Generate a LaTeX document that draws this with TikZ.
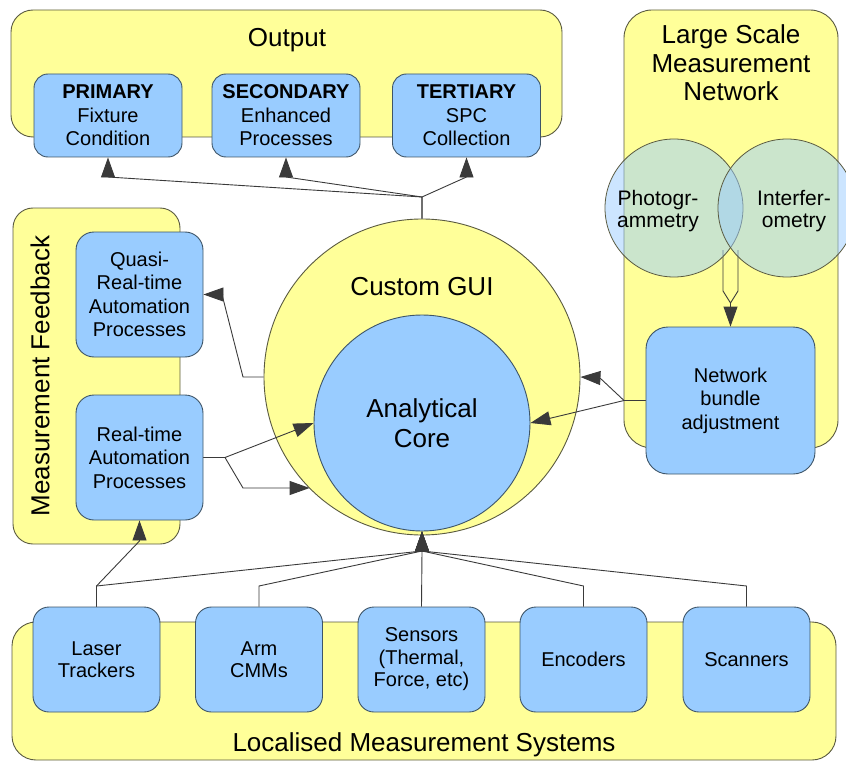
\documentclass[tikz,border=0pt]{standalone}
\usepackage{fontspec}
\setmainfont{Liberation Sans}
\usetikzlibrary{arrows.meta,calc}
\definecolor{ylw}{HTML}{FFFF99}
\definecolor{blu}{HTML}{99CCFF}
\definecolor{cedge}{HTML}{5A5A40}
\definecolor{bedge}{HTML}{3E5568}
\definecolor{lin}{HTML}{3A3A3A}
\begin{document}
\begin{tikzpicture}[x=1pt,y=-1pt,
 container/.style={draw=cedge, fill=ylw, line width=0.9pt, rounded corners=22pt, rectangle, inner sep=0pt},
 bluebox/.style={draw=bedge, fill=blu, line width=0.9pt, rounded corners=14pt, rectangle, inner sep=0pt, align=center, font=\fontsize{20}{23.5}\selectfont},
 titletext/.style={font=\fontsize{26}{29}\selectfont, align=center, inner sep=0pt},
 venn/.style={circle, draw=cedge, line width=0.8pt, fill=blu, fill opacity=0.5, inner sep=0pt, minimum size=138pt},
 conn/.style={draw=lin, line width=0.9pt},
 arr/.style={conn, -{Triangle[length=20pt,width=14pt]}},
]
\useasboundingbox (0,0) rectangle (846,765);

% ---------- containers ----------
\node[container, minimum width=551pt, minimum height=127pt] (outC) at (286.5,73.5) {};
\node[titletext, anchor=base] (outT) at (287,47) {Output};

\node[container, rounded corners=20pt, minimum width=167pt, minimum height=336pt] (mfC) at (96.5,376) {};
\node[titletext, rotate=90] (mfT) at (40,376) {Measurement Feedback};

\node[container, rounded corners=28pt, minimum width=214pt, minimum height=438pt] (lsC) at (731,229) {};
\node[titletext, font=\fontsize{26}{28.5}\selectfont] (lsT) at (731,63) {Large Scale\\Measurement\\Network};

\node[container, rounded corners=24pt, minimum width=824pt, minimum height=138pt] (lmC) at (424,691) {};
\node[titletext, anchor=base] (lmT) at (424,751) {Localised Measurement Systems};

% ---------- hollow arrow between venn and network box ----------
\coordinate (hTip) at (730.5,303);
\draw[conn, fill=ylw] (723,250) -- (723,291) -- (hTip) -- (738,291) -- (738,250);

% ---------- venn circles ----------
\node[venn] (photo) at (674,208) {};
\node[venn] (inter) at (787,208) {};
\node[font=\fontsize{21}{22}\selectfont, align=center, inner sep=0pt] (photoT) at (658,211) {Photogr-\\ammetry};
\node[font=\fontsize{21}{22}\selectfont, align=center, inner sep=0pt] (interT) at (794,211) {Interfer-\\ometry};

% ---------- GUI and core ----------
\node[circle, draw=cedge, fill=ylw, line width=0.9pt, minimum size=316pt, inner sep=0pt] (gui) at (422,377) {};
\node[titletext, anchor=base] (guiT) at (422,295) {Custom GUI};
\node[circle, draw=bedge, fill=blu, line width=0.9pt, minimum size=216pt, inner sep=0pt, font=\fontsize{26}{30}\selectfont, align=center] (core) at (422,423) {Analytical\\Core};

% ---------- output boxes ----------
\node[bluebox, minimum width=148pt, minimum height=83pt] (prim) at (108,115.5) {\textbf{PRIMARY}\\Fixture\\Condition};
\node[bluebox, minimum width=148pt, minimum height=83pt] (sec) at (286,115.5) {\textbf{SECONDARY}\\Enhanced\\Processes};
\node[bluebox, minimum width=148pt, minimum height=83pt] (ter) at (466.5,115.5) {\textbf{TERTIARY}\\SPC\\Collection};

% ---------- feedback boxes ----------
\node[bluebox, rounded corners=18pt, minimum width=127pt, minimum height=125pt] (quasi) at (139.5,294.5) {Quasi-\\Real-time\\Automation\\Processes};
\node[bluebox, rounded corners=18pt, minimum width=127pt, minimum height=125pt] (rt) at (139.5,457.5) {Real-time\\Automation\\Processes};

% ---------- network box ----------
\node[bluebox, rounded corners=22pt, minimum width=169pt, minimum height=147pt] (net) at (730.5,400.5) {Network\\bundle\\adjustment};

% ---------- bottom boxes ----------
\tikzset{lowbox/.style={bluebox, rounded corners=16pt, minimum width=127pt, minimum height=105pt, font=\fontsize{20}{22.5}\selectfont}}
\node[lowbox] (laser) at (96.5,659.5) {Laser\\Trackers};
\node[lowbox] (arm) at (259,659.5) {Arm\\CMMs};
\node[lowbox] (sens) at (421.5,659.5) {Sensors\\(Thermal,\\Force, etc)};
\node[lowbox] (enc) at (583.5,659.5) {Encoders};
\node[lowbox] (scan) at (746.5,659.5) {Scanners};

% ---------- connectors: top ----------
\coordinate (jTop) at (422,197);
\coordinate (pA) at (108,177);
\coordinate (sA) at (286,177);
\coordinate (tA) at (466.5,177);
\draw[arr] (gui.north) -- (jTop) -- (pA) -- (prim.south);
\draw[arr] (gui.north) -- (jTop) -- (sA) -- (sec.south);
\draw[arr] (gui.north) -- (jTop) -- (tA) -- (ter.south);

% ---------- connectors: left ----------
\coordinate (q1) at (243,377);
\coordinate (q2) at (222,294.5);
\draw[arr] (gui.west) -- (q1) -- (q2) -- (quasi.east);
\coordinate (r1) at (225,457.5);
\coordinate (r2) at (243,488);
\coordinate (r3) at (309.6,488);
\draw[arr] (rt.east) -- (r1) -- (core.west);
\draw[arr] (rt.east) -- (r1) -- (r2) -- (r3);

% ---------- connectors: right ----------
\coordinate (n1) at (624,400.5);
\coordinate (n2) at (600,378);
\draw[arr] (net.west) -- (n1) -- (n2) -- (gui.east);
\draw[arr] (net.west) -- (n1) -- (core.east);
\draw[arr] (hTip) -- (net.north);

% ---------- connectors: bottom ----------
\coordinate (jB) at (422,551);
\coordinate (ls) at (96.5,586);
\coordinate (as) at (259,586);
\coordinate (es) at (583.5,586);
\coordinate (ss) at (746.5,586);
\coordinate (ls2) at (139.5,541);
\draw[arr] (laser.north) -- (ls) -- (jB) -- (core.south);
\draw[arr] (arm.north) -- (as) -- (jB) -- (core.south);
\draw[arr] (sens.north) -- (jB) -- (core.south);
\draw[arr] (enc.north) -- (es) -- (jB) -- (core.south);
\draw[arr] (scan.north) -- (ss) -- (jB) -- (core.south);
\draw[arr] (laser.north) -- (ls) -- (ls2) -- (rt.south);
\end{tikzpicture}
\end{document}
